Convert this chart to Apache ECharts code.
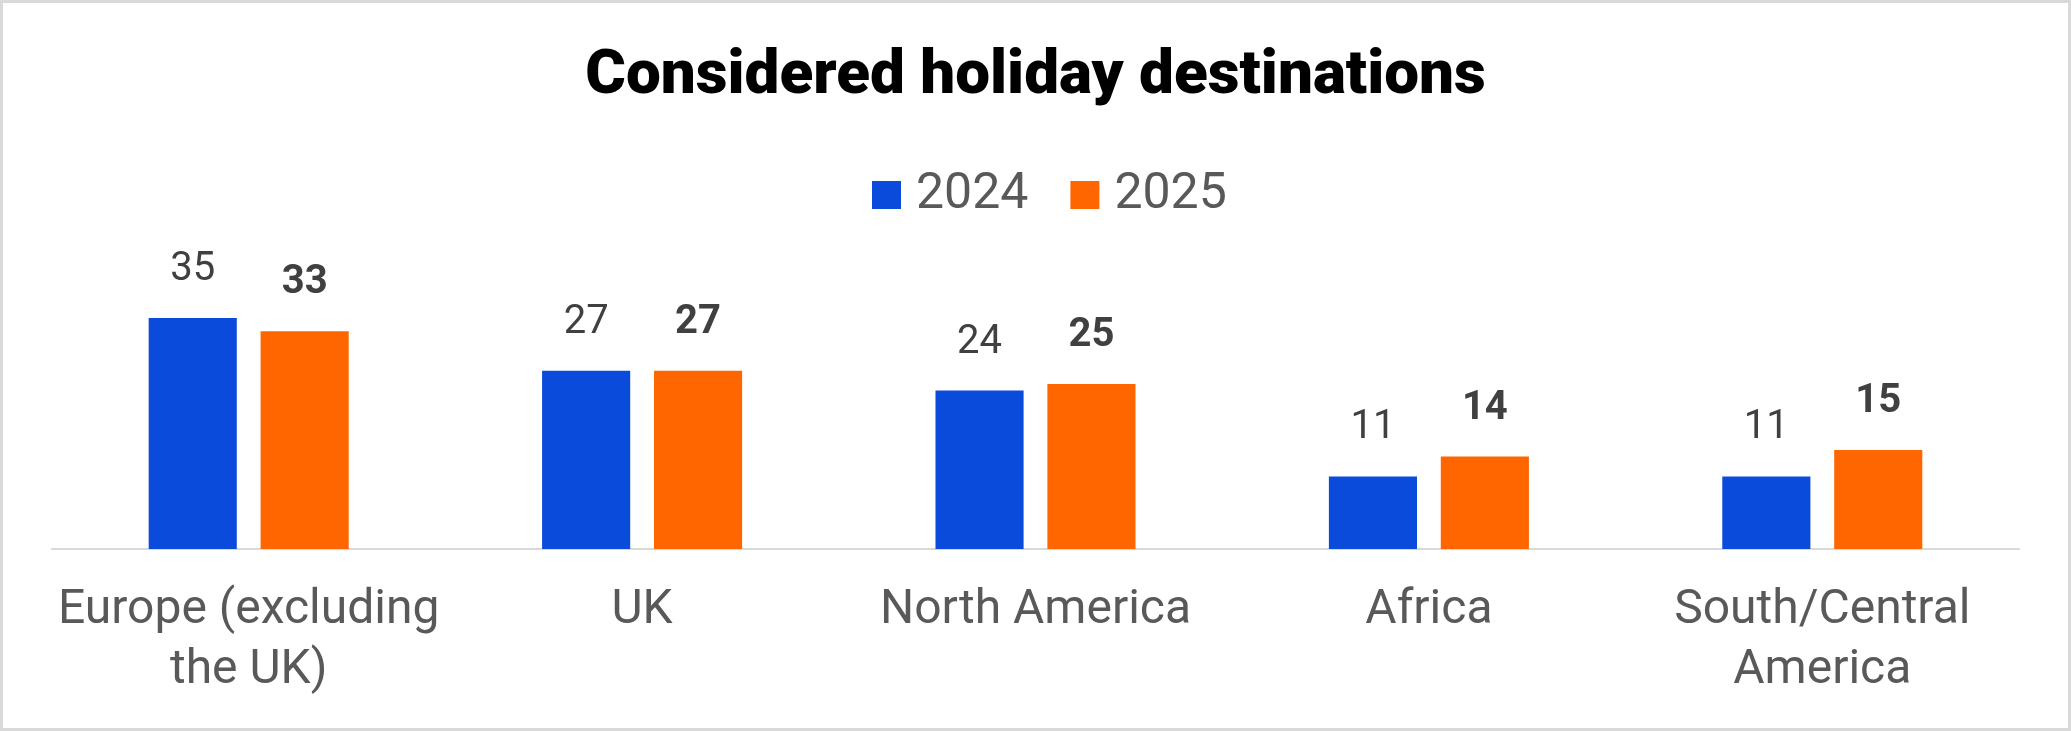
<!DOCTYPE html>
<html>
<head>
<meta charset="utf-8">
<script src="https://cdn.jsdelivr.net/npm/echarts@6/dist/echarts.min.js"></script>
<style>
  html, body { margin: 0; padding: 0; background: #fff; }
  #chart { width: 2071px; height: 731px; box-sizing: border-box; border: 3px solid #d9d9d9; }
</style>
</head>
<body>
<div id="chart"></div>
<script>
// values
const categories = ['Europe (excluding\nthe UK)', 'UK', 'North America', 'Africa', 'South/Central\nAmerica'];
const years = ['2024', '2025'];
const values2024 = [35, 27, 24, 11, 11];
const values2025 = [33, 27, 25, 14, 15];

const blue = '#0a4bdc';
const orange = '#ff6600';

let myChart = echarts.init(document.getElementById('chart'));

myChart.setOption({
    animation: false,
    title: {
        text: 'Considered holiday destinations',
        left: 'center',
        top: 38,
        textStyle: {
            fontFamily: 'Roboto',
            fontWeight: 900,
            fontSize: 62,
            color: '#000'
        }
    },
    legend: {
        data: years,
        top: 162,
        left: 864,
        itemWidth: 29,
        itemHeight: 28,
        itemGap: 42,
        icon: 'rect',
        textStyle: {
            fontFamily: 'Roboto',
            fontSize: 50,
            color: '#595959',
            padding: [0, 0, 0, 10]
        }
    },
    grid: {
        left: 49,
        right: 49,
        top: 282,
        bottom: 179
    },
    xAxis: {
        type: 'category',
        data: categories,
        axisLine: { lineStyle: { color: '#d9d9d9', width: 2 } },
        axisTick: { show: false },
        axisLabel: {
            margin: 32,
            fontFamily: 'Roboto',
            fontSize: 48,
            lineHeight: 60,
            color: '#595959',
            interval: 0
        }
    },
    yAxis: {
        type: 'value',
        min: 0,
        max: 40,
        show: false,
        splitLine: { show: false }
    },
    series: [
        {
            name: '2024',
            type: 'bar',
            data: values2024,
            barWidth: '22.4%',
            barGap: '27%',
            itemStyle: { color: blue },
            label: {
                show: true,
                position: 'top',
                distance: 28,
                fontFamily: 'Roboto',
                fontSize: 40,
                color: '#404040'
            }
        },
        {
            name: '2025',
            type: 'bar',
            data: values2025,
            barWidth: '22.4%',
            itemStyle: { color: orange },
            label: {
                show: true,
                position: 'top',
                distance: 28,
                fontFamily: 'Roboto',
                fontWeight: 'bold',
                fontSize: 40,
                color: '#404040'
            }
        }
    ]
});
</script>
</body>
</html>
